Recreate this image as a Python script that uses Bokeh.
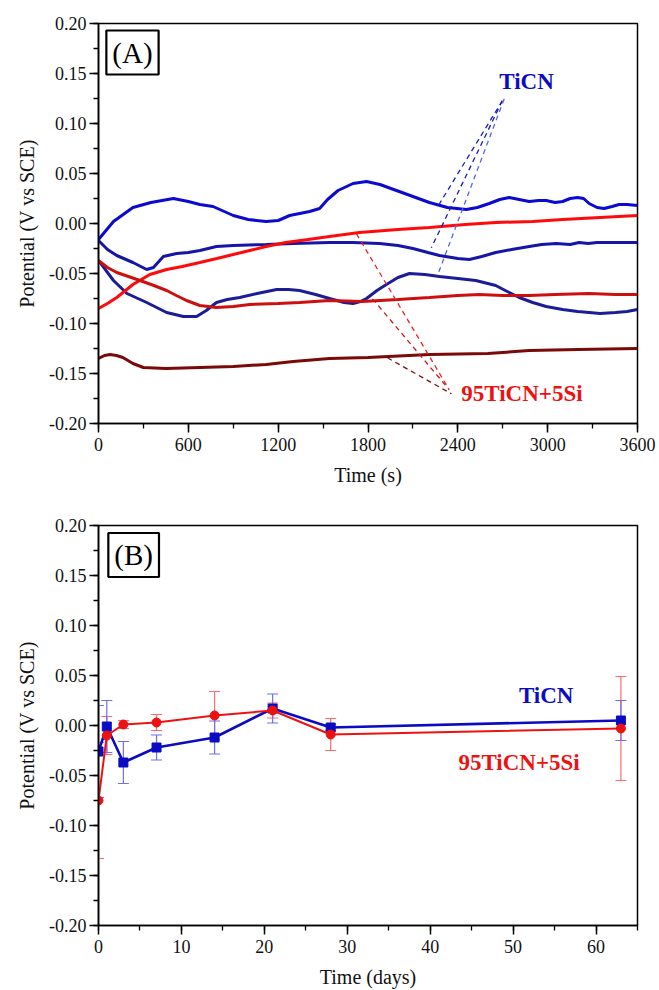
from bokeh.plotting import figure
from bokeh.layouts import column
from bokeh.models import (Range1d, SingleIntervalTicker, CustomJSTickFormatter, Label,
                          Whisker, TeeHead, ColumnDataSource)
from bokeh.embed import file_html
from bokeh.resources import INLINE

FONT = "Liberation Serif"

# ---------------- Panel A data (time in s, potential in V vs SCE) ----------------
t_ticn1 = [0, 100, 230, 350, 500, 600, 677, 765, 900, 1000, 1120, 1200, 1277, 1410, 1477, 1530,
           1600, 1700, 1790, 1880, 1990, 2100, 2210, 2330, 2457, 2530, 2610, 2680, 2743, 2810,
           2877, 2940, 2990, 3050, 3100, 3150, 3200, 3240, 3277, 3330, 3377, 3430, 3477, 3530, 3600]
v_ticn1 = [-0.016, 0.002, 0.016, 0.021, 0.025, 0.022, 0.019, 0.017, 0.008, 0.004, 0.002, 0.003,
           0.008, 0.012, 0.015, 0.024, 0.033, 0.040, 0.042, 0.039, 0.033, 0.027, 0.021, 0.016,
           0.014, 0.016, 0.020, 0.024, 0.026, 0.024, 0.022, 0.023, 0.023, 0.021, 0.022, 0.025,
           0.026, 0.025, 0.020, 0.016, 0.015, 0.017, 0.019, 0.019, 0.018]

t_ticn2 = [0, 60, 122, 230, 322, 367, 433, 522, 600, 677, 788, 900, 1120, 1300, 1543, 1700, 1877,
           2000, 2100, 2200, 2277, 2400, 2477, 2560, 2653, 2760, 2877, 2960, 3057, 3150, 3210,
           3270, 3330, 3450, 3600]
v_ticn2 = [-0.017, -0.026, -0.032, -0.039, -0.046, -0.044, -0.033, -0.030, -0.029, -0.027,
           -0.023, -0.022, -0.021, -0.020, -0.019, -0.019, -0.020, -0.022, -0.025, -0.029,
           -0.032, -0.035, -0.036, -0.033, -0.029, -0.026, -0.023, -0.021, -0.020, -0.021,
           -0.019, -0.020, -0.019, -0.019, -0.019]

t_ticn3 = [0, 100, 190, 322, 455, 567, 655, 720, 788, 860, 943, 1060, 1190, 1270, 1343, 1450,
           1543, 1640, 1700, 1750, 1790, 1860, 1923, 2000, 2077, 2180, 2277, 2400, 2520, 2600,
           2653, 2730, 2810, 2900, 2990, 3100, 3200, 3277, 3350, 3453, 3530, 3600]
v_ticn3 = [-0.037, -0.057, -0.070, -0.079, -0.089, -0.093, -0.093, -0.087, -0.079, -0.076,
           -0.074, -0.070, -0.066, -0.066, -0.067, -0.071, -0.075, -0.079, -0.080, -0.078,
           -0.075, -0.067, -0.061, -0.054, -0.050, -0.051, -0.053, -0.055, -0.057, -0.060,
           -0.062, -0.068, -0.074, -0.079, -0.083, -0.086, -0.088, -0.089, -0.090, -0.089,
           -0.088, -0.086]

t_si1 = [0, 60, 122, 230, 343, 455, 560, 677, 790, 900, 1010, 1120, 1250, 1400, 1543, 1743,
         2000, 2210, 2450, 2653, 2900, 3100, 3350, 3600]
v_si1 = [-0.085, -0.080, -0.074, -0.061, -0.051, -0.046, -0.043, -0.039, -0.035, -0.031,
         -0.027, -0.023, -0.019, -0.016, -0.013, -0.009, -0.006, -0.004, -0.001, 0.001,
         0.002, 0.004, 0.006, 0.008]

t_si2 = [0, 60, 122, 200, 277, 370, 455, 520, 588, 677, 788, 900, 1010, 1200, 1343, 1543, 1763,
         2000, 2210, 2400, 2543, 2700, 2877, 3050, 3277, 3450, 3600]
v_si2 = [-0.037, -0.044, -0.049, -0.053, -0.057, -0.062, -0.067, -0.072, -0.077, -0.082,
         -0.084, -0.083, -0.081, -0.080, -0.079, -0.077, -0.078, -0.076, -0.074, -0.072,
         -0.071, -0.072, -0.072, -0.071, -0.070, -0.071, -0.071]

t_si3 = [0, 40, 77, 120, 163, 230, 300, 450, 677, 900, 1120, 1300, 1543, 1800, 2210, 2600,
         2877, 3200, 3600]
v_si3 = [-0.135, -0.132, -0.131, -0.132, -0.134, -0.140, -0.144, -0.145, -0.144, -0.143,
         -0.141, -0.138, -0.135, -0.134, -0.131, -0.130, -0.127, -0.126, -0.125]

# leader lines (annotation) for panel A: start/end points in data units
ticn_lead_x0 = [2697, 2697, 2710]
ticn_lead_y0 = [0.1227, 0.1227, 0.1247]
ticn_lead_x1 = [2277, 2223, 2263]
ticn_lead_y1 = [0.0197, -0.0243, -0.0523]
si_lead_x0 = [1723, 1830, 1930]
si_lead_y0 = [-0.0103, -0.0753, -0.1343]
si_lead_x1 = [2323, 2343, 2357]
si_lead_y1 = [-0.1613, -0.1663, -0.1703]

# ---------------- Panel B data (time in days) ----------------
days = [0, 1, 3, 7, 14, 21, 28, 63]
pot_ticn = [-0.026, -0.001, -0.037, -0.022, -0.012, 0.017, -0.002, 0.005]
err_ticn = [0.046, 0.026, 0.021, 0.0125, 0.0165, 0.0145, 0.003, 0.020]
pot_si = [-0.075, -0.010, 0.001, 0.003, 0.010, 0.015, -0.009, -0.003]
err_si = [0.058, 0.019, 0.004, 0.008, 0.024, 0.0075, 0.016, 0.052]

BLUE = "#0b0bc4"
RED = "#ee1111"

fmt = CustomJSTickFormatter(code="return Math.abs(tick) < 1e-9 ? '0.00' : tick.toFixed(2);")


def style(p, xint, xlabel):
    p.xgrid.visible = False
    p.ygrid.visible = False
    p.outline_line_color = "black"
    p.outline_line_width = 1.5
    p.xaxis.ticker = SingleIntervalTicker(interval=xint, num_minor_ticks=2)
    p.yaxis.ticker = SingleIntervalTicker(interval=0.05, num_minor_ticks=2)
    p.yaxis.formatter = fmt
    p.xaxis.axis_label = xlabel
    p.yaxis.axis_label = "Potential (V vs SCE)"
    for ax in (p.xaxis[0], p.yaxis[0]):
        ax.axis_line_width = 1.6
        ax.axis_line_color = "black"
        ax.major_tick_out = 9
        ax.major_tick_in = 0
        ax.minor_tick_out = 5
        ax.minor_tick_in = 0
        ax.major_tick_line_width = 1.5
        ax.minor_tick_line_width = 1.3
        ax.major_tick_line_color = "black"
        ax.minor_tick_line_color = "black"
        ax.major_label_text_font = FONT
        ax.major_label_text_font_size = "18px"
        ax.major_label_text_color = "#111111"
        ax.axis_label_text_font = FONT
        ax.axis_label_text_font_size = "20px"
        ax.axis_label_text_font_style = "normal"
        ax.axis_label_text_color = "#111111"
    p.xaxis.major_label_standoff = 5
    p.yaxis.major_label_standoff = 3
    p.xaxis.axis_label_standoff = 10
    p.yaxis.axis_label_standoff = 8


def panel_label(p, x, y, txt):
    p.add_layout(Label(x=x, y=y, text=txt, text_font=FONT, text_font_size="29px",
                       text_align="center", text_baseline="middle", text_color="black",
                       border_line_color="black", border_line_width=2.2,
                       background_fill_color="white", padding=6))


# ---------------- Panel A ----------------
pA = figure(width=659, height=495, x_range=Range1d(0, 3600), y_range=Range1d(-0.2, 0.2),
            output_backend="svg", toolbar_location=None,
            min_border_left=98, min_border_right=22, min_border_top=23, min_border_bottom=72)
style(pA, 600, "Time (s)")

pA.line(t_ticn1, v_ticn1, line_color="#0a0ad0", line_width=3)
pA.line(t_ticn2, v_ticn2, line_color="#1515a8", line_width=3)
pA.line(t_ticn3, v_ticn3, line_color="#1c1c98", line_width=3)
pA.line(t_si1, v_si1, line_color="#ff0a0a", line_width=3)
pA.line(t_si2, v_si2, line_color="#cc1010", line_width=3)
pA.line(t_si3, v_si3, line_color="#7a0a0a", line_width=3)

pA.segment(ticn_lead_x0, ticn_lead_y0, ticn_lead_x1, ticn_lead_y1,
           line_color=["#1a1acc", "#1a1aa8", "#5566ee"], line_width=1.3, line_dash="5 4")
pA.segment(si_lead_x0, si_lead_y0, si_lead_x1, si_lead_y1,
           line_color=["#ee2222", "#cc1515", "#7a1010"], line_width=1.3, line_dash="5 4")

pA.add_layout(Label(x=2677, y=0.1417, text="TiCN", text_font=FONT, text_font_style="bold",
                    text_font_size="23px", text_color=BLUE, text_baseline="middle"))
pA.add_layout(Label(x=2423, y=-0.1703, text="95TiCN+5Si", text_font=FONT, text_font_style="bold",
                    text_font_size="23px", text_color=RED, text_baseline="middle"))
panel_label(pA, 227, 0.171, "(A)")

# ---------------- Panel B ----------------
pB = figure(width=659, height=495, x_range=Range1d(0, 65), y_range=Range1d(-0.2, 0.2),
            output_backend="svg", toolbar_location=None,
            min_border_left=98, min_border_right=22, min_border_top=30, min_border_bottom=65)
style(pB, 10, "Time (days)")

src_t = ColumnDataSource(dict(x=days, y=pot_ticn,
                              lo=[a - b for a, b in zip(pot_ticn, err_ticn)],
                              hi=[a + b for a, b in zip(pot_ticn, err_ticn)]))
src_s = ColumnDataSource(dict(x=days, y=pot_si,
                              lo=[a - b for a, b in zip(pot_si, err_si)],
                              hi=[a + b for a, b in zip(pot_si, err_si)]))

EB_BLUE = "#6f6fee"
EB_RED = "#ff6a6a"
pB.add_layout(Whisker(base="x", upper="hi", lower="lo", source=src_s, line_color=EB_RED,
                      line_width=1.2,
                      upper_head=TeeHead(size=11, line_color=EB_RED, line_width=1.2),
                      lower_head=TeeHead(size=11, line_color=EB_RED, line_width=1.2)))
pB.add_layout(Whisker(base="x", upper="hi", lower="lo", source=src_t, line_color=EB_BLUE,
                      line_width=1.2,
                      upper_head=TeeHead(size=11, line_color=EB_BLUE, line_width=1.2),
                      lower_head=TeeHead(size=11, line_color=EB_BLUE, line_width=1.2)))

pB.line("x", "y", source=src_t, line_color=BLUE, line_width=2.6)
pB.scatter("x", "y", source=src_t, marker="square", size=9, fill_color=BLUE, line_color=BLUE)
pB.line("x", "y", source=src_s, line_color=RED, line_width=2)
pB.scatter("x", "y", source=src_s, marker="circle", size=9, fill_color=RED, line_color=RED)

pB.add_layout(Label(x=50.7, y=0.030, text="TiCN", text_font=FONT, text_font_style="bold",
                    text_font_size="23px", text_color=BLUE, text_baseline="middle"))
pB.add_layout(Label(x=43.4, y=-0.037, text="95TiCN+5Si", text_font=FONT, text_font_style="bold",
                    text_font_size="23px", text_color=RED, text_baseline="middle"))
panel_label(pB, 4.24, 0.1705, "(B)")

layout = column(pA, pB, spacing=0)
open("out.html", "w").write(file_html(layout, INLINE))
